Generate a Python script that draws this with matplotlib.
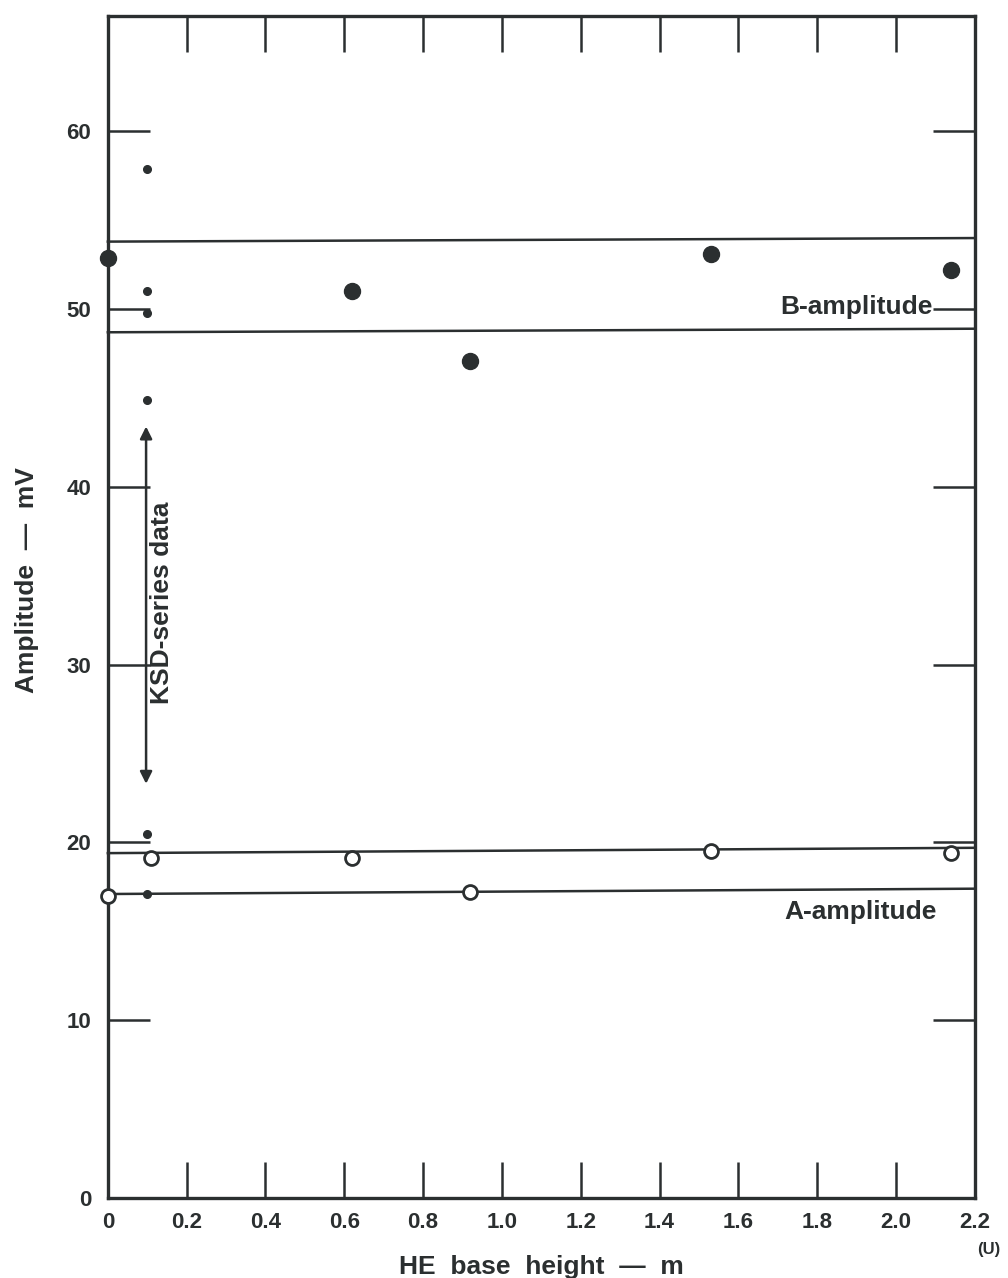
import matplotlib
matplotlib.use("Agg")
import matplotlib.pyplot as plt

plt.rcParams["font.family"] = ["Liberation Sans", "DejaVu Sans"]

# B-amplitude (large filled dots)
b_x = [0.0, 0.62, 0.92, 1.53, 2.14]
b_y = [52.9, 51.0, 47.1, 53.1, 52.2]

# KSD-series data (small dots)
ksd_x = [0.10, 0.10, 0.10, 0.10, 0.10, 0.10]
ksd_y = [57.9, 51.0, 49.8, 44.9, 20.5, 17.1]

# A-amplitude (open circles)
a_x = [0.0, 0.11, 0.62, 0.92, 1.53, 2.14]
a_y = [17.0, 19.1, 19.1, 17.2, 19.5, 19.4]

# band limits (left end, right end)
band_x = [0.0, 2.2]
b_hi = [53.8, 54.0]
b_lo = [48.7, 48.9]
a_hi = [19.4, 19.7]
a_lo = [17.1, 17.4]

x_ticks = [0, 0.2, 0.4, 0.6, 0.8, 1.0, 1.2, 1.4, 1.6, 1.8, 2.0, 2.2]
x_labels = ["0", "0.2", "0.4", "0.6", "0.8", "1.0", "1.2", "1.4", "1.6", "1.8", "2.0", "2.2"]
y_ticks = [0, 10, 20, 30, 40, 50, 60]

ink = "#2b2f30"

fig = plt.figure(figsize=(10.08, 12.78), dpi=100)
ax = fig.add_axes([0.107, 0.0626, 0.860, 0.925])

for hi, lo in [(b_hi, b_lo), (a_hi, a_lo)]:
    ax.plot(band_x, hi, color=ink, lw=1.8, clip_on=False)
    ax.plot(band_x, lo, color=ink, lw=1.8, clip_on=False)

ax.plot(b_x, b_y, "o", color=ink, ms=11.5, clip_on=False, zorder=4)
ax.plot(ksd_x, ksd_y, "o", color=ink, ms=5.5, clip_on=False, zorder=4)
ax.plot(a_x, a_y, "o", mfc="white", mec=ink, mew=2, ms=10, clip_on=False, zorder=5)

# KSD double arrow
ax.annotate("", xy=(0.097, 43.4), xytext=(0.097, 23.3),
            arrowprops=dict(arrowstyle="<|-|>", color=ink, lw=1.8,
                            mutation_scale=18, shrinkA=0, shrinkB=0))
ax.text(0.138, 33.5, "KSD-series data", rotation=90, ha="center", va="center",
        fontsize=19, fontweight="bold", color=ink)

ax.text(1.90, 50.1, "B-amplitude", ha="center", va="center",
        fontsize=19, fontweight="bold", color=ink)
ax.text(1.91, 16.1, "A-amplitude", ha="center", va="center",
        fontsize=19, fontweight="bold", color=ink)

ax.set_xlim(0, 2.2)
ax.set_ylim(0, 66.5)
ax.set_xticks(x_ticks)
ax.set_xticklabels(x_labels)
ax.set_yticks(y_ticks)

ax.tick_params(axis="x", direction="in", length=26, width=1.8, color=ink,
               labelsize=16, labelcolor=ink, top=True, pad=10)
ax.tick_params(axis="y", direction="in", length=30, width=1.8, color=ink,
               labelsize=16, labelcolor=ink, right=True, pad=12)
for lab in ax.get_xticklabels() + ax.get_yticklabels():
    lab.set_fontweight("bold")

for sp in ax.spines.values():
    sp.set_linewidth(2.4)
    sp.set_color(ink)

ax.set_xlabel("HE  base  height  \u2014  m", fontsize=19, fontweight="bold",
              color=ink, labelpad=16)
ax.set_ylabel("Amplitude  \u2014  mV", fontsize=19, fontweight="bold",
              color=ink)
ax.yaxis.set_label_coords(-0.08, 0.523)

fig.text(0.992, 0.022, "(U)", ha="right", va="center", fontsize=12,
         fontweight="bold", color=ink)

fig.savefig("out.png", dpi=100)
